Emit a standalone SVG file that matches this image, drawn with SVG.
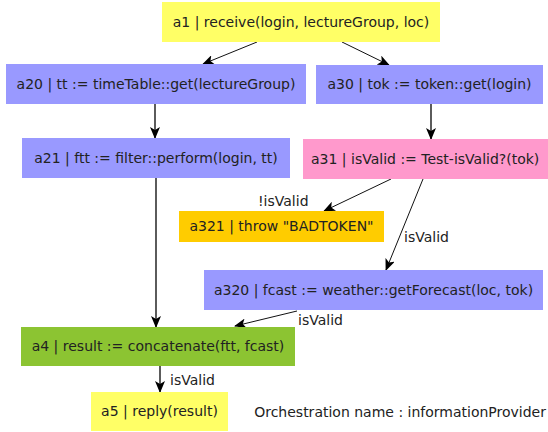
<svg xmlns="http://www.w3.org/2000/svg" width="548" height="432" viewBox="0 0 548 432">
<style>
text{font-family:"DejaVu Sans","Liberation Sans",sans-serif;font-size:14px;fill:#222}
.n{text-anchor:middle}
.e{stroke:#111;stroke-width:1;fill:none;marker-end:url(#ah)}
.v{stroke:#333;stroke-width:1.6;fill:none;marker-end:url(#ah)}
.yel{fill:#ffff66}.blu{fill:#9999ff}.pnk{fill:#ff99cc}.org{fill:#ffcc00}.grn{fill:#8cc432}
</style>
<defs>
<marker id="ah" viewBox="0 0 12 10" refX="11" refY="5" markerWidth="12" markerHeight="10" markerUnits="userSpaceOnUse" orient="auto">
<path d="M0,0 L12,5 L0,10 L3,5 Z" fill="#000"/>
</marker>
</defs>
<rect width="548" height="432" fill="#fff"/>
<g id="connectors">
<line class="e" x1="257" y1="42" x2="203" y2="64"/>
<line class="e" x1="342" y1="42" x2="389" y2="65"/>
<line class="v" x1="155" y1="104" x2="155" y2="138"/>
<line class="v" x1="431" y1="104" x2="431" y2="139"/>
<line class="e" x1="391" y1="179" x2="324" y2="211"/>
<line class="e" x1="423" y1="179" x2="386" y2="270"/>
<line class="v" x1="156" y1="178" x2="156" y2="327"/>
<line class="e" x1="297" y1="311" x2="235" y2="326"/>
<line class="v" x1="160" y1="366" x2="160" y2="392"/>
<text x="258" y="206">!isValid</text>
<text x="404" y="242">isValid</text>
<text x="298" y="325">isValid</text>
<text x="170" y="385">isValid</text>
</g>
<g id="a1"><rect class="yel" x="162" y="2" width="278" height="40"/><text class="n" x="301" y="27">a1 | receive(login, lectureGroup, loc)</text></g>
<g id="a20"><rect class="blu" x="6" y="64" width="300" height="40"/><text class="n" x="156" y="89">a20 | tt := timeTable::get(lectureGroup)</text></g>
<g id="a30"><rect class="blu" x="316" y="65" width="227" height="39"/><text class="n" x="429.5" y="89">a30 | tok := token::get(login)</text></g>
<g id="a21"><rect class="blu" x="22" y="138" width="268" height="40"/><text class="n" x="156" y="163">a21 | ftt := filter::perform(login, tt)</text></g>
<g id="a31"><rect class="pnk" x="303" y="139" width="250" height="40"/><text x="311" y="164">a31 | isValid := Test-isValid?(tok)</text></g>
<g id="a321"><rect class="org" x="179" y="211" width="205" height="31"/><text class="n" x="281.5" y="231">a321 | throw "BADTOKEN"</text></g>
<g id="a320"><rect class="blu" x="204" y="270" width="339" height="40"/><text class="n" x="373.5" y="295">a320 | fcast := weather::getForecast(loc, tok)</text></g>
<g id="a4"><rect class="grn" x="21" y="327" width="274" height="39"/><text class="n" x="158" y="351">a4 | result := concatenate(ftt, fcast)</text></g>
<g id="a5"><rect class="yel" x="91" y="392" width="137" height="39"/><text class="n" x="159.5" y="416">a5 | reply(result)</text></g>
<text x="546" y="417" text-anchor="end">Orchestration name : informationProvider</text>
</svg>
